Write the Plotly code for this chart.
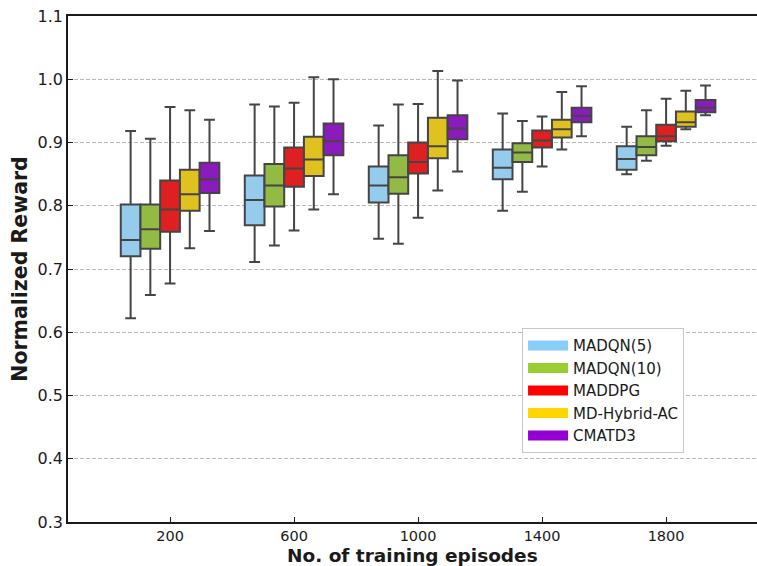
import plotly.graph_objects as go

categories = ["200", "600", "1000", "1400", "1800"]
methods = ["MADQN(5)", "MADQN(10)", "MADDPG", "MD-Hybrid-AC", "CMATD3"]

madqn5_lower = [0.622, 0.711, 0.748, 0.792, 0.850]
madqn5_q1 = [0.720, 0.769, 0.805, 0.842, 0.857]
madqn5_med = [0.746, 0.809, 0.832, 0.860, 0.874]
madqn5_q3 = [0.802, 0.848, 0.862, 0.889, 0.894]
madqn5_upper = [0.918, 0.960, 0.927, 0.946, 0.925]

madqn10_lower = [0.659, 0.737, 0.740, 0.822, 0.871]
madqn10_q1 = [0.732, 0.799, 0.819, 0.869, 0.880]
madqn10_med = [0.763, 0.832, 0.845, 0.884, 0.893]
madqn10_q3 = [0.802, 0.866, 0.880, 0.899, 0.910]
madqn10_upper = [0.906, 0.957, 0.960, 0.934, 0.951]

maddpg_lower = [0.677, 0.761, 0.781, 0.862, 0.895]
maddpg_q1 = [0.759, 0.830, 0.851, 0.892, 0.902]
maddpg_med = [0.794, 0.859, 0.869, 0.903, 0.910]
maddpg_q3 = [0.840, 0.892, 0.900, 0.919, 0.928]
maddpg_upper = [0.956, 0.963, 0.961, 0.941, 0.969]

hybrid_lower = [0.733, 0.794, 0.824, 0.889, 0.921]
hybrid_q1 = [0.792, 0.847, 0.875, 0.908, 0.925]
hybrid_med = [0.818, 0.873, 0.894, 0.921, 0.932]
hybrid_q3 = [0.857, 0.909, 0.939, 0.936, 0.949]
hybrid_upper = [0.951, 1.003, 1.013, 0.980, 0.982]

cmatd3_lower = [0.760, 0.818, 0.854, 0.910, 0.943]
cmatd3_q1 = [0.820, 0.880, 0.905, 0.932, 0.948]
cmatd3_med = [0.842, 0.902, 0.922, 0.942, 0.955]
cmatd3_q3 = [0.868, 0.930, 0.943, 0.955, 0.967]
cmatd3_upper = [0.936, 1.000, 0.998, 0.989, 0.990]

box_colors = ["#95cbec", "#93ba45", "#df2020", "#dfc120", "#8b1bbd"]
legend_colors = ["#87cefa", "#9acd32", "#ff0000", "#ffd700", "#9400d3"]

series = [
    (madqn5_lower, madqn5_q1, madqn5_med, madqn5_q3, madqn5_upper),
    (madqn10_lower, madqn10_q1, madqn10_med, madqn10_q3, madqn10_upper),
    (maddpg_lower, maddpg_q1, maddpg_med, maddpg_q3, maddpg_upper),
    (hybrid_lower, hybrid_q1, hybrid_med, hybrid_q3, hybrid_upper),
    (cmatd3_lower, cmatd3_q1, cmatd3_med, cmatd3_q3, cmatd3_upper),
]

box_w = 0.159
line_col = "#454545"

fig = go.Figure()
for i, (lo, q1, md, q3, up) in enumerate(series):
    xs = [k + (i - 2) * box_w for k in range(len(categories))]
    fig.add_trace(go.Box(
        x=xs, lowerfence=lo, q1=q1, median=md, q3=q3, upperfence=up,
        width=box_w, whiskerwidth=0.55, boxpoints=False,
        fillcolor=box_colors[i], line=dict(color=line_col, width=2),
        name=methods[i], showlegend=False, hoverinfo="skip",
    ))

for i, m in enumerate(methods):
    fig.add_trace(go.Scatter(
        x=[None], y=[None], mode="lines", name=m,
        line=dict(color=legend_colors[i], width=11),
    ))

fig.update_layout(
    width=757, height=566,
    margin=dict(l=68, r=0, t=16, b=44),
    plot_bgcolor="white", paper_bgcolor="white",
    boxmode="overlay",
    font=dict(family="DejaVu Sans", color="#1a1a1a"),
    legend=dict(
        x=0.659, y=0.383, xanchor="left", yanchor="top",
        bgcolor="white", bordercolor="#c8c8c8", borderwidth=1,
        font=dict(size=15, family="DejaVu Sans", color="#1a1a1a"),
        itemwidth=40,
    ),
    xaxis=dict(
        range=[-0.823, 4.733],
        tickvals=list(range(len(categories))), ticktext=categories,
        ticks="inside", ticklen=5, tickwidth=1.2, tickcolor="#1a1a1a",
        showline=True, linecolor="#1a1a1a", linewidth=1.6, mirror=True,
        showgrid=False, zeroline=False,
        tickfont=dict(size=14.5),
    ),
    yaxis=dict(
        range=[0.3, 1.1], dtick=0.1, tickformat=".1f",
        ticks="inside", ticklen=5, tickwidth=1.2, tickcolor="#1a1a1a",
        showline=True, linecolor="#1a1a1a", linewidth=1.6,
        showgrid=True, gridcolor="#b8b8b8", gridwidth=1, griddash="4px,2px",
        zeroline=False,
        tickfont=dict(size=16),
        title=dict(text="<b>Normalized Reward</b>", standoff=4,
                   font=dict(size=20.5)),
    ),
    annotations=[dict(
        text="<b>No. of training episodes</b>", xref="paper", yref="paper",
        x=0.5, y=-0.0665, xanchor="center", yanchor="middle", showarrow=False,
        font=dict(size=18.5, family="DejaVu Sans", color="#1a1a1a"),
    )],
)

fig.write_html("out.html")
